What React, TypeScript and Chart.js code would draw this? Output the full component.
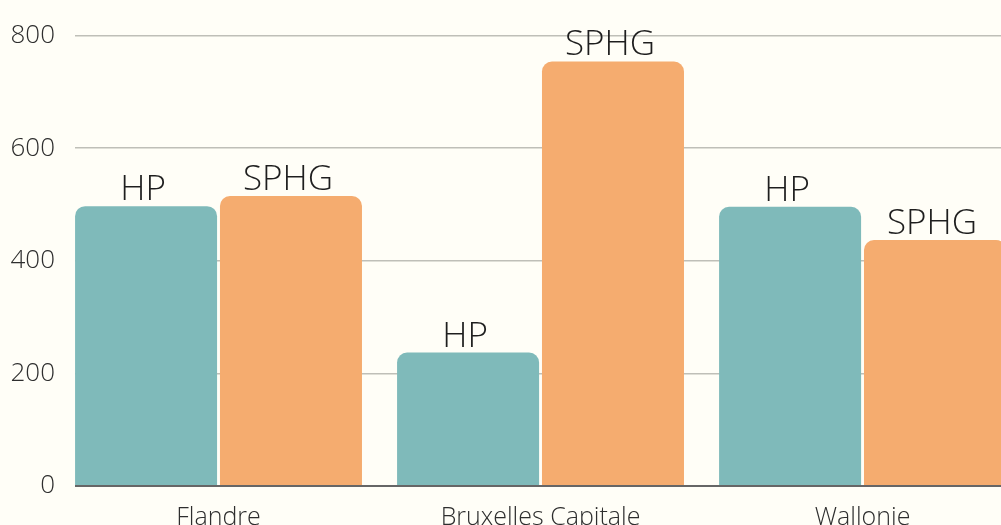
import React, { useEffect, useRef } from "react";
import { Chart, registerables } from "chart.js";

Chart.register(...registerables);

const categories = ["Flandre", "Bruxelles Capitale", "Wallonie"];
const hpValues = [497, 237, 496];
const sphgValues = [515, 754, 437];
const yTicks = [0, 200, 400, 600, 800];
const seriesNames = ["HP", "SPHG"];
const seriesColors = ["#7fbaba", "#f5ac6f"];

const BG = "#fffef7";
const FONT = "'Open Sans', 'Noto Sans', sans-serif";

const barLabelPlugin = {
  id: "barLabels",
  afterDatasetsDraw(chart: any) {
    const ctx = chart.ctx;
    ctx.save();
    ctx.font = `300 35px ${FONT}`;
    ctx.fillStyle = "#1e1e1e";
    ctx.textAlign = "center";
    ctx.textBaseline = "alphabetic";
    chart.data.datasets.forEach((ds: any, di: number) => {
      const meta = chart.getDatasetMeta(di);
      meta.data.forEach((el: any) => {
        ctx.fillText(ds.label, el.x - 3, el.y - 6);
      });
    });
    ctx.restore();
  },
};

export default function App() {
  const ref = useRef<HTMLCanvasElement | null>(null);

  useEffect(() => {
    document.body.style.margin = "0";
    document.body.style.background = BG;
    const canvas = ref.current!;
    const chart = new Chart(canvas, {
      type: "bar",
      data: {
        datasets: [
          {
            label: seriesNames[0],
            data: hpValues.map((v, i) => ({ x: i, y: v })),
            backgroundColor: seriesColors[0],
            borderRadius: 10,
            borderSkipped: "start",
          },
          {
            label: seriesNames[1],
            data: sphgValues.map((v, i) => ({ x: i, y: v })),
            backgroundColor: seriesColors[1],
            borderRadius: 10,
            borderSkipped: "start",
          },
        ],
      },
      options: {
        animation: false,
        responsive: false,
        maintainAspectRatio: false,
        layout: { padding: { top: 33, left: 0, right: 0, bottom: 0 } },
        datasets: {
          bar: { categoryPercentage: 0.9, barPercentage: 0.98 },
        },
        plugins: {
          legend: { display: false },
          tooltip: { enabled: false },
        },
        scales: {
          x: {
            type: "linear",
            min: -0.4457,
            max: 2.43,
            offset: false,
            grid: { display: false },
            border: { display: false },
            afterBuildTicks: (scale: any) => {
              scale.ticks = categories.map((_, i) => ({ value: i }));
            },
            afterFit: (scale: any) => {
              scale.height = 59;
            },
            ticks: {
              autoSkip: false,
              maxRotation: 0,
              padding: 9,
              color: "#2e2e2e",
              font: { family: FONT, size: 25, weight: "300" as any },
              callback: (v: any) => categories[Number(v)] ?? "",
            },
          },
          y: {
            min: 0,
            max: 800,
            afterBuildTicks: (scale: any) => {
              scale.ticks = yTicks.map((v) => ({ value: v }));
            },
            afterFit: (scale: any) => {
              scale.width = 75;
            },
            border: { display: false },
            grid: {
              drawTicks: false,
              color: (c: any) => (c.tick && c.tick.value === 0 ? "#666666" : "#bfbfb8"),
              lineWidth: (c: any) => (c.tick && c.tick.value === 0 ? 2 : 1.5),
            },
            ticks: {
              padding: 20,
              color: "#2e2e2e",
              font: { family: FONT, size: 26, weight: "300" as any },
            },
          },
        },
      },
      plugins: [barLabelPlugin],
    });
    return () => chart.destroy();
  }, []);

  return (
    <div
      style={{
        position: "fixed",
        left: 0,
        top: 0,
        width: 1001,
        height: 545,
        background: BG,
        overflow: "hidden",
      }}
    >
      <canvas ref={ref} width={1001} height={545} style={{ display: "block", width: 1001, height: 545 }} />
    </div>
  );
}
